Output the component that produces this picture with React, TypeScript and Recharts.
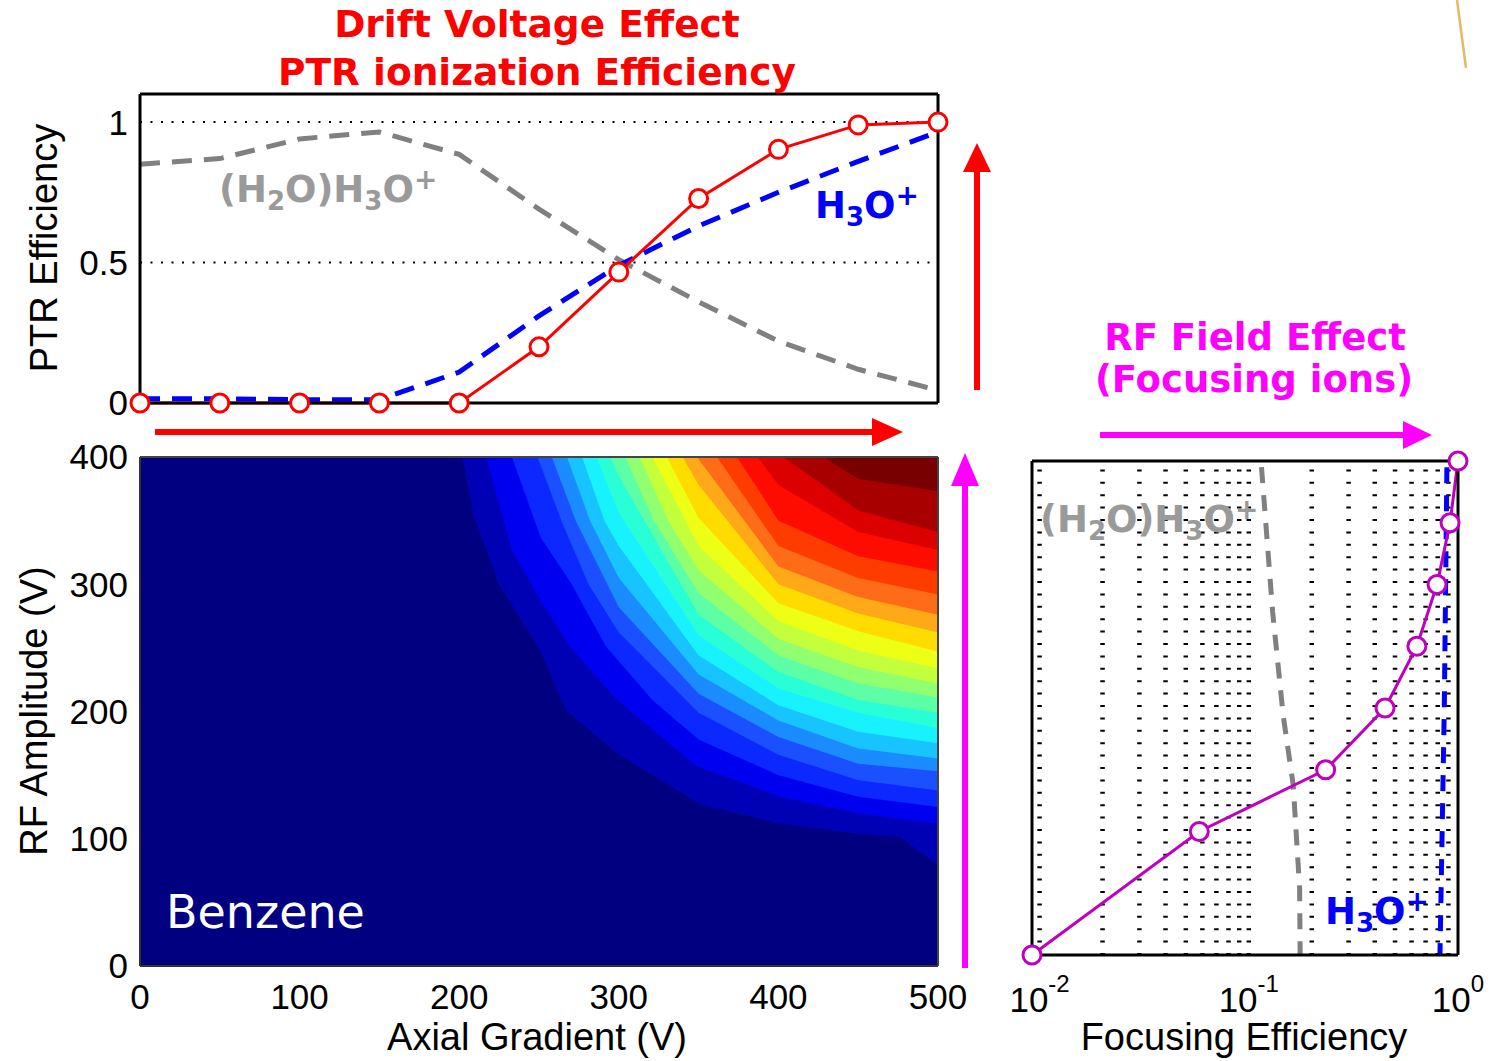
import React from "react";
import {
  ComposedChart,
  Line,
  Area,
  XAxis,
  YAxis,
  CartesianGrid,
  ReferenceLine,
} from "recharts";

const AXIS_FONT = "'Liberation Sans', Arial, Helvetica, sans-serif";
const TITLE_FONT = "'DejaVu Sans', Verdana, sans-serif";

// ---- top panel: PTR efficiency vs axial gradient ----
const axialGradient = [0, 50, 100, 150, 200, 250, 300, 350, 400, 450, 500];
const ptrEfficiency = [0, 0, 0, 0, 0, 0.2, 0.466, 0.728, 0.903, 0.99, 1.0];
const h3oFraction = [0.015, 0.015, 0.012, 0.012, 0.11, 0.31, 0.49, 0.63, 0.75, 0.86, 0.965];
const clusterFraction = [0.85, 0.87, 0.94, 0.965, 0.885, 0.69, 0.51, 0.36, 0.22, 0.12, 0.045];
const ptrTicks = [0, 0.5, 1];
const gradientTicks = [0, 100, 200, 300, 400, 500];

// ---- contour panel: benzene signal vs axial gradient & RF amplitude ----
const rfTicks = [0, 100, 200, 300, 400];
const RF_TOP = 400;
const contourBackground = "#000080";
const contourColors = [
  "#0000b4", "#0000f0", "#0a28ff", "#1a50ff", "#1a8cff",
  "#18c4ff", "#18f2ff", "#28ffd6", "#5cffa6", "#90ff70",
  "#c4ff3c", "#eeff16", "#ffdc00", "#ffa818", "#ff6c18",
  "#ff3c00", "#ff0c00", "#dc0000", "#a80000", "#780000",
];
// lower edge of each filled level: [axial gradient, rf amplitude]
const contourBoundaries: [number, number][][] = [
  [[202, 400], [209, 354], [224.5, 301], [250.6, 248], [267, 201], [299, 167], [351, 127], [401, 112], [450, 104], [476, 101.6], [500, 79]],
  [[217, 400], [233, 327], [250.6, 288], [269.4, 251], [299, 209], [349, 157], [401, 133], [450, 120], [500, 112]],
  [[233, 400], [251, 337], [270, 301], [292, 251], [321, 209], [350, 178], [400, 150], [450, 133], [500, 125]],
  [[249, 400], [264, 350], [281, 300], [300, 262], [350, 199], [400, 166], [450, 146], [500, 138]],
  [[258, 400], [273, 350], [300, 282], [350, 214], [400, 180], [450, 159], [500, 153]],
  [[267.5, 400], [282, 350], [300, 305], [350, 229], [400, 193], [450, 171], [500, 163]],
  [[277, 400], [291, 350], [300, 330], [350, 244], [400, 205], [450, 184], [500, 175]],
  [[286, 400], [300, 356], [350, 260], [400, 218], [450, 199], [500, 187]],
  [[294.5, 400], [300, 385], [350, 276], [400, 231], [450, 209], [500, 199]],
  [[304, 400], [322, 350], [350, 293], [400, 244], [450, 222], [500, 211]],
  [[313, 400], [331, 350], [350, 311], [400, 257], [450, 235], [500, 222]],
  [[321, 400], [350, 330], [400, 271], [450, 248], [500, 234]],
  [[330, 400], [350, 352], [400, 285], [450, 263], [500, 247]],
  [[340, 400], [350, 378], [400, 300], [450, 277], [500, 262]],
  [[349, 400], [400, 314], [450, 290], [500, 276]],
  [[361.5, 400], [400, 330], [450, 305], [500, 292]],
  [[374, 400], [400, 350], [450, 322], [500, 310]],
  [[387, 400], [400, 378], [450, 341], [500, 327]],
  [[403, 400], [420, 385], [450, 358], [500, 341]],
  [[428, 400], [450, 383], [500, 373]],
];

// ---- right panel: focusing efficiency (log) vs RF amplitude ----
const rfAmplitude = [0, 100, 150, 200, 250, 300, 350, 400];
const focusingEff = [0.0092, 0.058, 0.233, 0.448, 0.636, 0.794, 0.916, 1.0];
const clusterRF = [395, 278, 194, 138, 54, 0];
const clusterEff = [0.115, 0.13, 0.146, 0.163, 0.175, 0.176];
const h3oRF = [395, 200, 0];
const h3oEff = [0.885, 0.86, 0.82];
const decadeTicks = [0.01, 0.1, 1];
const minorTicks = [
  0.01, 0.02, 0.03, 0.04, 0.05, 0.06, 0.07, 0.08, 0.09,
  0.1, 0.2, 0.3, 0.4, 0.5, 0.6, 0.7, 0.8, 0.9,
];

const ptrData = axialGradient.map((x, i) => ({
  x,
  red: ptrEfficiency[i],
  blue: h3oFraction[i],
  grey: clusterFraction[i],
}));
const focusData = rfAmplitude.map((rf, i) => ({ rf, eff: focusingEff[i] }));
const clusterFocusData = clusterRF.map((rf, i) => ({ rf, eff: clusterEff[i] }));
const h3oFocusData = h3oRF.map((rf, i) => ({ rf, eff: h3oEff[i] }));
const contourData = contourBoundaries.map((pts) => pts.map(([x, y]) => ({ x, y })));

const tickStyle = { fontSize: 35, fill: "#000", fontFamily: AXIS_FONT };

function LogTick({ x, y, payload }: any) {
  const exp = Math.round(Math.log10(payload.value));
  return (
    <text x={x} y={y + 25} textAnchor="middle" fontSize={35} fontFamily={AXIS_FONT} fill="#000">
      10
      <tspan dy={-20} fontSize={24}>
        {exp === 0 ? "0" : `-${-exp}`}
      </tspan>
    </text>
  );
}

function Formula({ x, y, fill, cluster }: { x: number; y: number; fill: string; cluster?: boolean }) {
  return (
    <text x={x} y={y} fill={fill} fontSize={37} fontWeight="bold" fontFamily={TITLE_FONT}>
      {cluster ? "(H" : "H"}
      {cluster && (
        <tspan dy={8} fontSize={26}>
          2
        </tspan>
      )}
      {cluster && <tspan dy={-8}>O)H</tspan>}
      <tspan dy={8} fontSize={26}>
        3
      </tspan>
      <tspan dy={-8}>O</tspan>
      <tspan dy={-13} fontSize={28}>
        +
      </tspan>
    </text>
  );
}

function PtrPanel() {
  return (
    <ComposedChart
      width={960}
      height={436}
      data={ptrData}
      margin={{ top: 94, right: 21, bottom: 33, left: 0 }}
    >
      <XAxis
        dataKey="x"
        type="number"
        domain={[0, 500]}
        ticks={[100, 200, 300, 400]}
        tick={false}
        mirror
        tickSize={9}
        height={1}
        axisLine={{ stroke: "#000", strokeWidth: 3 }}
        tickLine={{ stroke: "#000", strokeWidth: 2 }}
      />
      <XAxis
        xAxisId="top"
        orientation="top"
        type="number"
        domain={[0, 500]}
        ticks={[100, 200, 300, 400]}
        tick={false}
        mirror
        tickSize={9}
        height={1}
        axisLine={{ stroke: "#000", strokeWidth: 3 }}
        tickLine={{ stroke: "#000", strokeWidth: 2 }}
      />
      <YAxis
        type="number"
        domain={[0, 1.1]}
        ticks={ptrTicks}
        interval={0}
        width={140}
        tickLine={false}
        tickSize={0}
        tickMargin={12}
        tick={tickStyle}
        axisLine={{ stroke: "#000", strokeWidth: 3 }}
      />
      <YAxis
        yAxisId="right"
        orientation="right"
        type="number"
        domain={[0, 1.1]}
        width={1}
        tick={false}
        tickLine={false}
        axisLine={{ stroke: "#000", strokeWidth: 3 }}
      />
      <ReferenceLine y={0.5} stroke="#000" strokeWidth={2} strokeDasharray="2 8.5" />
      <ReferenceLine y={1} stroke="#000" strokeWidth={2} strokeDasharray="2 8.5" />
      <Line
        dataKey="grey"
        type="linear"
        stroke="#808080"
        strokeWidth={5}
        strokeDasharray="20 12"
        dot={false}
        isAnimationActive={false}
      />
      <Line
        dataKey="blue"
        type="linear"
        stroke="#0000ff"
        strokeWidth={5}
        strokeDasharray="20 12"
        dot={false}
        isAnimationActive={false}
      />
      <Line
        dataKey="red"
        type="linear"
        stroke="#ff0000"
        strokeWidth={3}
        dot={{ r: 9, fill: "#fff", stroke: "#ff0000", strokeWidth: 3 }}
        isAnimationActive={false}
      />
    </ComposedChart>
  );
}

function ContourPanel() {
  return (
    <ComposedChart width={990} height={637} margin={{ top: 32, right: 51, bottom: 0, left: 0 }}>
      <CartesianGrid fill={contourBackground} horizontal={false} vertical={false} />
      <XAxis
        dataKey="x"
        type="number"
        domain={[0, 500]}
        ticks={gradientTicks}
        interval={0}
        height={95}
        tickLine={false}
        tickSize={0}
        tickMargin={18}
        tick={tickStyle}
        axisLine={{ stroke: "#333", strokeWidth: 2 }}
      />
      <XAxis
        xAxisId="top"
        orientation="top"
        type="number"
        domain={[0, 500]}
        height={1}
        tick={false}
        tickLine={false}
        axisLine={{ stroke: "#444", strokeWidth: 2 }}
      />
      <YAxis
        type="number"
        domain={[0, RF_TOP]}
        ticks={rfTicks}
        interval={0}
        width={140}
        tickLine={false}
        tickSize={0}
        tickMargin={12}
        tick={tickStyle}
        axisLine={{ stroke: "#333", strokeWidth: 2 }}
      />
      <YAxis
        yAxisId="right"
        orientation="right"
        type="number"
        domain={[0, RF_TOP]}
        width={1}
        tick={false}
        tickLine={false}
        axisLine={{ stroke: "#444", strokeWidth: 2 }}
      />
      {contourData.map((pts, i) => (
        <Area
          key={i}
          data={pts}
          dataKey={(d: any) => [d.y, RF_TOP]}
          type="linear"
          stroke="none"
          fill={contourColors[i]}
          fillOpacity={1}
          isAnimationActive={false}
        />
      ))}
    </ComposedChart>
  );
}

function FocusPanel() {
  return (
    <ComposedChart
      width={544}
      height={621}
      data={focusData}
      margin={{ top: 20, right: 45, bottom: 0, left: 71 }}
    >
      <XAxis
        dataKey="eff"
        type="number"
        scale="log"
        domain={[0.0092, 1]}
        ticks={decadeTicks}
        interval={0}
        height={106}
        tickLine={false}
        tickSize={0}
        tickMargin={32}
        tick={<LogTick />}
        axisLine={{ stroke: "#000", strokeWidth: 3 }}
      />
      <XAxis
        xAxisId="top"
        orientation="top"
        type="number"
        scale="log"
        domain={[0.0092, 1]}
        height={1}
        tick={false}
        tickLine={false}
        axisLine={{ stroke: "#000", strokeWidth: 3 }}
      />
      <YAxis
        type="number"
        domain={[0, RF_TOP]}
        width={1}
        tick={false}
        tickLine={false}
        axisLine={{ stroke: "#000", strokeWidth: 3 }}
      />
      <YAxis
        yAxisId="right"
        orientation="right"
        type="number"
        domain={[0, RF_TOP]}
        width={1}
        tick={false}
        tickLine={false}
        axisLine={{ stroke: "#000", strokeWidth: 3 }}
      />
      {minorTicks.map((v) => (
        <ReferenceLine key={v} x={v} stroke="#000" strokeWidth={4.5} strokeDasharray="2 10.4" />
      ))}
      <Line
        data={clusterFocusData}
        dataKey="rf"
        type="linear"
        stroke="#808080"
        strokeWidth={5}
        strokeDasharray="16 12"
        dot={false}
        isAnimationActive={false}
      />
      <Line
        data={h3oFocusData}
        dataKey="rf"
        type="linear"
        stroke="#0000ff"
        strokeWidth={5}
        strokeDasharray="16 12"
        dot={false}
        isAnimationActive={false}
      />
      <Line
        dataKey="rf"
        type="linear"
        stroke="#c000c0"
        strokeWidth={3}
        dot={{ r: 9, fill: "#fff", stroke: "#c000c0", strokeWidth: 3 }}
        isAnimationActive={false}
      />
    </ComposedChart>
  );
}

function Overlay() {
  return (
    <svg
      width={1504}
      height={1061}
      style={{ position: "absolute", left: 0, top: 0, pointerEvents: "none" }}
    >
      {/* titles */}
      <g fill="#ff0000" fontSize={37.5} fontWeight="bold" fontFamily={TITLE_FONT} textAnchor="middle">
        <text x={537} y={37}>Drift Voltage Effect</text>
        <text x={537} y={85}>PTR ionization Efficiency</text>
      </g>
      <g fill="#ff00ff" fontSize={37} fontWeight="bold" fontFamily={TITLE_FONT} textAnchor="middle">
        <text x={1255} y={350}>RF Field Effect</text>
        <text x={1254} y={392}>(Focusing ions)</text>
      </g>

      {/* arrows */}
      <line x1={155} y1={432} x2={874} y2={432} stroke="#ff0000" strokeWidth={6} />
      <polygon points="872,418 903,432 872,446" fill="#ff0000" />
      <line x1={977} y1={390} x2={977} y2={170} stroke="#ff0000" strokeWidth={6} />
      <polygon points="963,172 977,143 991,172" fill="#ff0000" />
      <line x1={965} y1={968} x2={965} y2={484} stroke="#ff00ff" strokeWidth={6} />
      <polygon points="951,486 965,453 979,486" fill="#ff00ff" />
      <line x1={1100} y1={435} x2={1405} y2={435} stroke="#ff00ff" strokeWidth={6} />
      <polygon points="1403,421 1432,435 1403,449" fill="#ff00ff" />

      {/* ion labels */}
      <Formula x={219} y={202} fill="#9a9a9a" cluster />
      <Formula x={815} y={218} fill="#0000ff" />
      <Formula x={1040} y={532} fill="#9a9a9a" cluster />
      <Formula x={1325} y={924} fill="#0000ff" />

      <text x={166} y={928} fill="#fff" fontSize={46} fontFamily={TITLE_FONT}>
        Benzene
      </text>

      {/* axis titles */}
      <g fill="#000" fontFamily={AXIS_FONT} fontSize={38} textAnchor="middle">
        <text transform="translate(57,248) rotate(-90)">PTR Efficiency</text>
        <text transform="translate(47,711) rotate(-90)">RF Amplitude (V)</text>
        <text x={537} y={1050}>Axial Gradient (V)</text>
        <text x={1244} y={1050}>Focusing Efficiency</text>
      </g>

      <line x1={1457} y1={0} x2={1466} y2={68} stroke="#e2bb66" strokeWidth={2.5} />
    </svg>
  );
}

export default function App() {
  return (
    <div
      style={{
        position: "absolute",
        left: 0,
        top: 0,
        width: 1504,
        height: 1061,
        background: "#fff",
        overflow: "hidden",
      }}
    >
      <div style={{ position: "absolute", left: 0, top: 0 }}>
        <PtrPanel />
      </div>
      <div style={{ position: "absolute", left: 0, top: 424 }}>
        <ContourPanel />
      </div>
      <div style={{ position: "absolute", left: 960, top: 440 }}>
        <FocusPanel />
      </div>
      <Overlay />
    </div>
  );
}
